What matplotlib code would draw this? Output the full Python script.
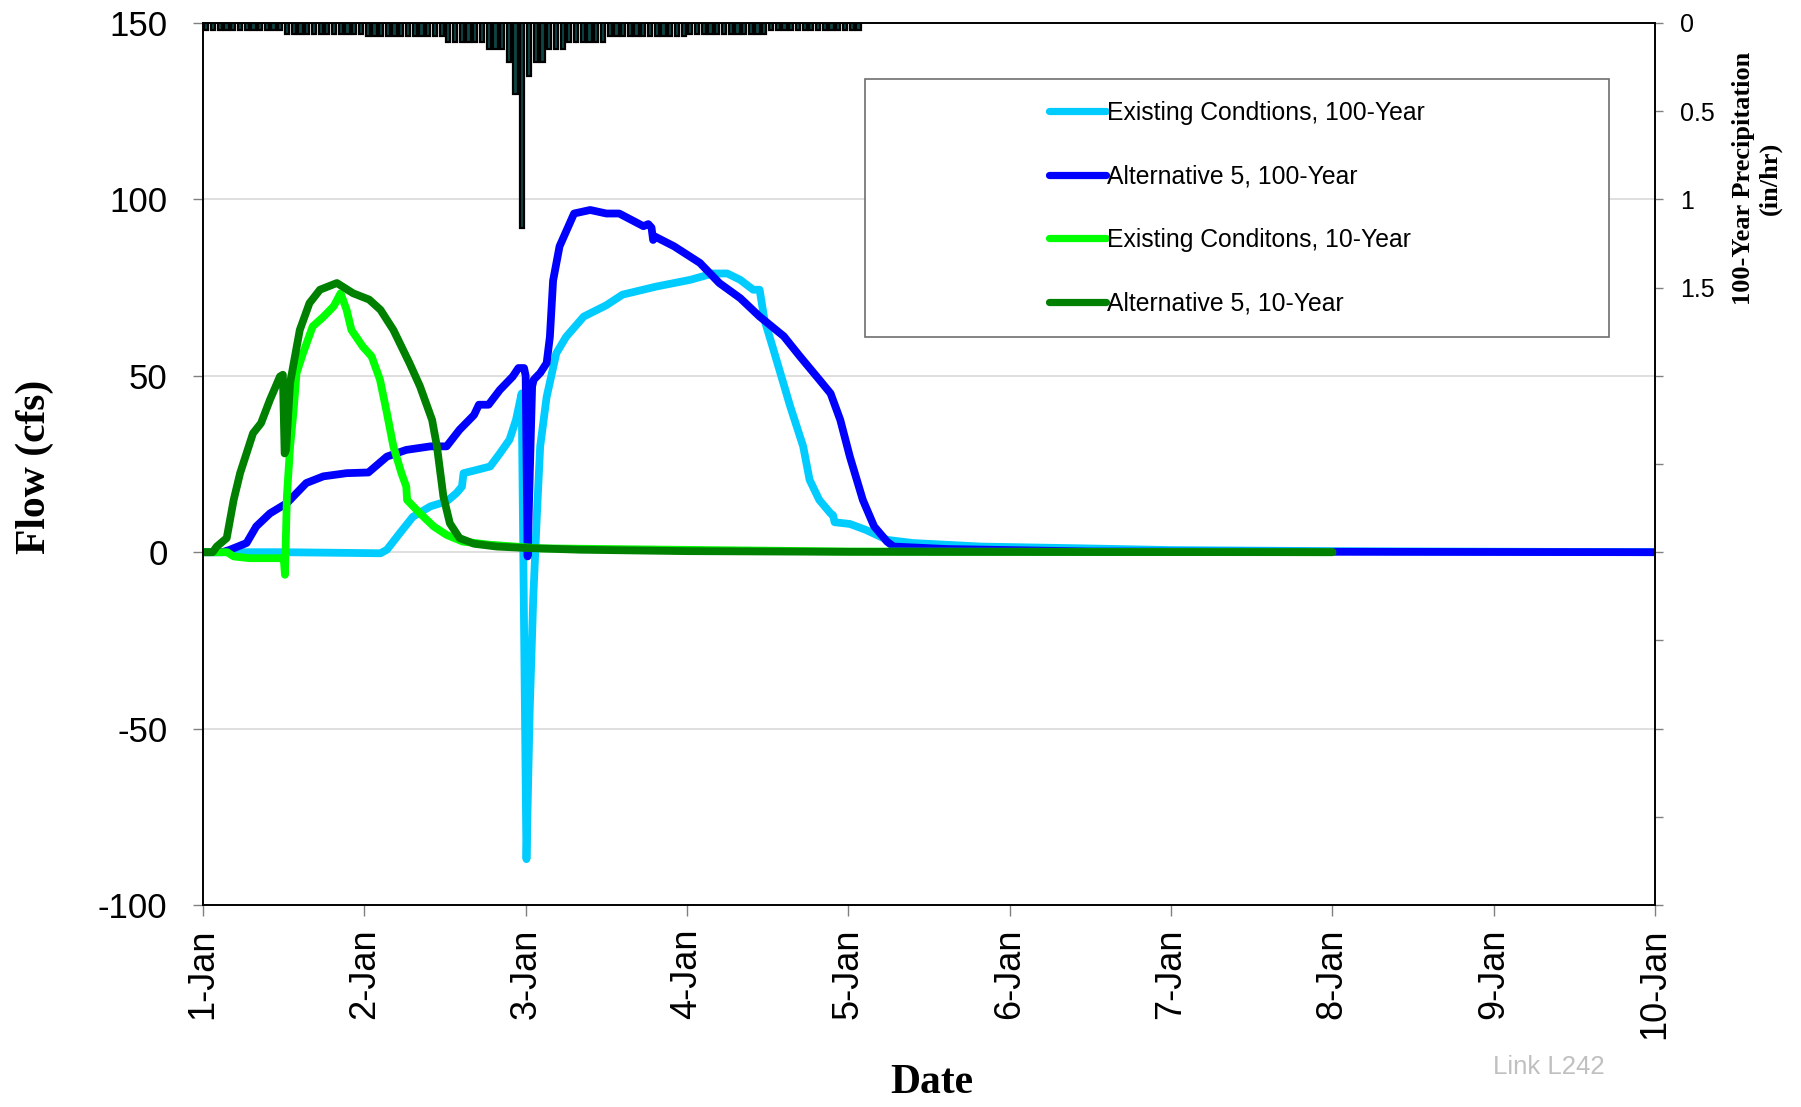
import matplotlib
matplotlib.use("Agg")
import matplotlib.pyplot as plt
from matplotlib.patches import Rectangle
from matplotlib.lines import Line2D
from matplotlib.ticker import FixedLocator, FuncFormatter
import numpy as np

# ---------------- data ----------------
date_labels = ["1-Jan", "2-Jan", "3-Jan", "4-Jan", "5-Jan",
               "6-Jan", "7-Jan", "8-Jan", "9-Jan", "10-Jan"]

# Existing Conditions, 100-Year (days since 1-Jan, cfs)
ex100_t = [0, 0.5, 1.10, 1.14, 1.22, 1.30, 1.41, 1.51, 1.57, 1.605, 1.615, 1.66,
           1.78, 1.84, 1.90, 1.94, 1.975, 2.005, 2.025, 2.047, 2.07, 2.09, 2.13,
           2.19, 2.25, 2.36, 2.50, 2.60, 2.81, 3.02, 3.16, 3.25, 3.33, 3.41,
           3.45, 3.48, 3.53, 3.64, 3.72, 3.76, 3.82, 3.89, 3.905, 3.915, 4.01,
           4.11, 4.24, 4.40, 4.82, 5.44, 6.0, 7.0, 9.0]
ex100_q = [0, 0, -0.3, 0.7, 5.4, 10, 13, 14.4, 16.7, 18.6, 22.4, 22.9,
           24.3, 28, 31.9, 37.5, 45, -87, -45, -13, 11, 30, 44,
           56.4, 61, 66.8, 70, 73, 75.3, 77.2, 79, 79, 77.2, 74.4,
           74.4, 65.9, 58.3, 41.3, 30, 20.5, 14.8, 11, 10.5, 8.5, 8,
           6.3, 3.5, 2.6, 1.6, 1.1, 0.6, 0.3, 0]

# Alternative 5, 100-Year
alt100_t = [0, 0.12, 0.167, 0.27, 0.33, 0.415, 0.52, 0.64, 0.746, 0.89, 1.025,
            1.14, 1.26, 1.41, 1.51, 1.59, 1.68, 1.71, 1.77, 1.84, 1.92, 1.955,
            1.99, 2.0, 2.012, 2.03, 2.04, 2.05, 2.09, 2.13, 2.15, 2.17, 2.21,
            2.30, 2.40, 2.50, 2.58, 2.73, 2.76, 2.78, 2.79, 2.80, 2.92, 3.08,
            3.20, 3.33, 3.45, 3.60, 3.70, 3.82, 3.89, 3.95, 4.01, 4.09, 4.16,
            4.24, 4.28, 4.61, 5.5, 9.0]
alt100_q = [0, 0, 0.7, 2.6, 7.3, 11, 13.9, 19.6, 21.5, 22.4, 22.6,
            27.1, 29, 30, 30, 34.7, 38.9, 41.8, 41.8, 46, 49.8, 52.2,
            52.2, 50, -1.2, 30, 47, 48.9, 50.8, 53.6, 61, 77, 86.7,
            96, 97, 96, 96, 92.4, 93, 92, 88.5, 89.5, 86.7, 82,
            76.3, 72, 66.8, 61.2, 55.5, 48.9, 45, 37.5, 27, 14.8, 7.3,
            3, 1.6, 0.9, 0.2, 0]

# Existing Conditions, 10-Year
ex10_t = [0, 0.15, 0.19, 0.29, 0.48, 0.50, 0.508, 0.52, 0.54, 0.56, 0.58, 0.62,
          0.68, 0.746, 0.81, 0.853, 0.89, 0.92, 0.99, 1.045, 1.097, 1.14, 1.18,
          1.23, 1.26, 1.265, 1.345, 1.43, 1.51, 1.61, 1.78, 2.09, 2.91, 4.0, 7.0]
ex10_q = [0, 0, -1.2, -1.7, -1.7, -1.5, -6.4, 15.8, 30, 39.4, 50.8, 56.4,
          64, 66.7, 69.7, 73.4, 68.7, 63, 58.3, 55.5, 48.9, 39.4, 30,
          22.4, 18.6, 14.8, 11, 7.3, 4.9, 3, 2.1, 1.1, 0.7, 0.2, 0]

# Alternative 5, 10-Year
alt10_t = [0, 0.06, 0.085, 0.147, 0.19, 0.23, 0.31, 0.36, 0.415, 0.477, 0.495,
           0.506, 0.515, 0.54, 0.60, 0.66, 0.725, 0.83, 0.93, 1.03, 1.10, 1.18,
           1.28, 1.345, 1.42, 1.45, 1.49, 1.53, 1.59, 1.68, 1.82, 2.0, 2.34,
           3.0, 4.0, 7.0]
alt10_q = [0, 0, 1.6, 4, 14.8, 22.4, 33.7, 36.6, 43.2, 49.8, 50.3,
           28, 29, 48, 63, 70.6, 74.4, 76.3, 73.4, 71.6, 68.7, 63,
           53.6, 47, 37.5, 30, 15.8, 8.2, 4, 2.4, 1.6, 1.2, 0.7,
           0.3, 0.1, 0]

# 100-Year hourly precipitation (in/hr), hours 0..97 from 1-Jan 00:00
precip = ([0.04] * 12 + [0.06] * 12 + [0.075] * 12 + [0.105] * 6 +
          [0.15] * 3 + [0.22, 0.40, 1.16, 0.30, 0.22, 0.22] +
          [0.15] * 3 + [0.105] * 6 + [0.075] * 12 + [0.06] * 12 + [0.04] * 14)

series_labels = ["Existing Condtions, 100-Year", "Alternative 5, 100-Year",
                 "Existing Conditons, 10-Year", "Alternative 5, 10-Year"]
series_colors = ["#00CCFF", "#0000FF", "#00FF00", "#008000"]

# ---------------- figure ----------------
SANS = "Liberation Sans"
SERIF = "Liberation Serif"
plt.rcParams["font.family"] = SANS
plt.rcParams["axes.unicode_minus"] = False

fig = plt.figure(figsize=(18.01, 11.07), dpi=100)
ax = fig.add_axes([203 / 1801, 1 - 905 / 1107, 1452 / 1801, 882 / 1107])

ax.set_xlim(0, 9)
ax.set_ylim(-100, 150)
ax.set_yticks([-100, -50, 0, 50, 100, 150])
ax.set_xticks(range(10))
ax.set_xticklabels(date_labels, rotation=90, fontsize=26, family=SANS)
ax.tick_params(axis="y", labelsize=25, length=7.5, width=1, color="#808080",
               pad=18, direction="out")
ax.tick_params(axis="x", length=8, width=1, color="#808080", pad=9,
               direction="out")
ax.grid(axis="y", color="#d9d9d9", linewidth=1.2)
ax.set_axisbelow(True)
for sp in ax.spines.values():
    sp.set_color("black")
    sp.set_linewidth(1.2)

lw = 5.6
data = [(ex100_t, ex100_q), (alt100_t, alt100_q), (ex10_t, ex10_q), (alt10_t, alt10_q)]
for (t, q), c, lab in zip(data, series_colors, series_labels):
    ax.plot(t, q, color=c, linewidth=lw, solid_joinstyle="round",
            solid_capstyle="round", label=lab)

# precipitation on inverted secondary axis
ax2 = ax.twinx()
hours = np.arange(len(precip))
ax2.bar((hours + 0.5) / 24.0, precip, width=0.62 / 24.0, bottom=0,
        color="#0e4646", edgecolor="black", linewidth=1.6, align="center")
ax2.set_ylim(5, 0)
ax2.yaxis.set_major_locator(FixedLocator(np.arange(0, 5.01, 0.5)))
ax2.yaxis.set_major_formatter(FuncFormatter(
    lambda v, p: ("%g" % v) if v <= 1.5 + 1e-9 else ""))
ax2.tick_params(axis="y", labelsize=18, length=6, width=1, color="#808080",
                pad=12, direction="out")
for sp in ax2.spines.values():
    sp.set_color("black")
    sp.set_linewidth(1.2)

# legend with a square frame
bx0, bx1 = (865 - 203) / 1452, (1609 - 203) / 1452
by0, by1 = (905 - 337) / 882, (905 - 79) / 882
ax2.add_patch(Rectangle((bx0, by0), bx1 - bx0, by1 - by0, transform=ax2.transAxes,
                        facecolor="white", edgecolor="#6e6e6e", linewidth=1.2,
                        zorder=5))
handles = [Line2D([0], [0], color=c, linewidth=5.2, solid_capstyle="round")
           for c in series_colors]
leg = ax2.legend(handles, series_labels, loc="center",
                 bbox_to_anchor=((bx0 + bx1) / 2, (by0 + by1) / 2),
                 bbox_transform=ax2.transAxes, frameon=False,
                 prop={"family": SANS, "size": 17.8}, handlelength=2.3,
                 handletextpad=0.05, labelspacing=1.6)
leg.set_zorder(6)

# axis titles and annotations
fig.text(35 / 1801, 1 - 467 / 1107, "Flow (cfs)", rotation=90, ha="center",
         va="center", fontsize=30, fontweight="bold", family=SERIF)
fig.text(932 / 1801, 1 - 1083 / 1107, "Date", ha="center", va="center",
         fontsize=30, fontweight="bold", family=SERIF)
fig.text(1757 / 1801, 1 - 178 / 1107, "100-Year Precipitation\n(in/hr)",
         rotation=90, ha="center", va="center", multialignment="center",
         fontsize=19, fontweight="bold", family=SERIF, linespacing=1.15)
fig.text(1549 / 1801, 1 - 1067 / 1107, "Link L242", ha="center", va="center",
         fontsize=18.5, color="#c0c0c0", family=SANS)

fig.savefig("out.png", dpi=100)
